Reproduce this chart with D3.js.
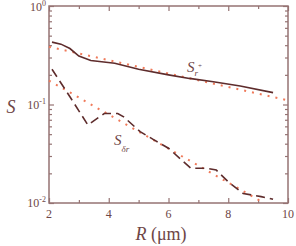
<!DOCTYPE html>
<html>
<head>
<meta charset="utf-8">
<script src="https://cdn.jsdelivr.net/npm/d3@7"></script>
<style>
  body { margin: 0; background: #fff; }
  svg text { fill: #6e4646; }
</style>
</head>
<body>
<div id="chart"></div>
<script>
// solid curve S_r
const srR = [2.1, 2.4, 2.7, 3.0, 3.4, 4.2, 5.0, 6.0, 6.7, 7.5, 8.4, 9.5];
const srS = [0.43, 0.41, 0.37, 0.31, 0.28, 0.262, 0.228, 0.2, 0.184, 0.17, 0.154, 0.132];

// dashed curve S_dr
const sdrR = [2.1, 2.7, 3.3, 3.85, 4.3, 4.5, 5.05, 5.5, 6.0, 6.4, 6.75, 7.3, 7.6, 8.0, 8.5, 9.1, 9.5];
const sdrS = [0.228, 0.12, 0.062, 0.081, 0.081, 0.075, 0.053, 0.044, 0.036, 0.028, 0.0225, 0.0225, 0.0216, 0.0164, 0.0125, 0.0116, 0.0109];

// exponential fits (dotted)
const fitSrR = [2, 10];
const fitSrS = [0.385, 0.11];
const fitSdrR = [2, 9.1];
const fitSdrS = [0.175, 0.0104];

const xMajor = [2, 4, 6, 8, 10];
const xMinor = [3, 5, 7, 9];
const yMajor = [0.01, 0.1, 1];
const yExp = [-2, -1, 0];

const width = 296, height = 246;
const margin = {top: 6, right: 8, bottom: 43, left: 49};
const axisCol = '#957373';

const svg = d3.select('#chart').append('svg')
  .attr('width', width)
  .attr('height', height)
  .attr('font-family', '"Liberation Serif", "Times New Roman", serif')

const x = d3.scaleLinear()
  .domain([2, 10])
  .range([margin.left, width - margin.right])

const y = d3.scaleLog()
  .domain([0.01, 1])
  .range([height - margin.bottom, margin.top])

const yMinor = []
for (let e = -2; e < 0; e++) {
  for (let k = 2; k <= 9; k++) yMinor.push(k * Math.pow(10, e))
}

const styleAxis = (g) => {
  g.select('.domain').remove()
  g.selectAll('line').attr('stroke', axisCol).attr('stroke-width', 1.2)
}

const x0 = margin.left, x1 = width - margin.right
const y0 = height - margin.bottom, y1 = margin.top

// ticks, pointing inward on all four sides
svg.append('g').attr('transform', `translate(0,${y0})`)
  .call(d3.axisBottom(x).tickValues(xMajor).tickSize(-5).tickFormat('')).call(styleAxis)
svg.append('g').attr('transform', `translate(0,${y0})`)
  .call(d3.axisBottom(x).tickValues(xMinor).tickSize(-3).tickFormat('')).call(styleAxis)
svg.append('g').attr('transform', `translate(0,${y1})`)
  .call(d3.axisTop(x).tickValues(xMajor).tickSize(-5).tickFormat('')).call(styleAxis)
svg.append('g').attr('transform', `translate(0,${y1})`)
  .call(d3.axisTop(x).tickValues(xMinor).tickSize(-3).tickFormat('')).call(styleAxis)
svg.append('g').attr('transform', `translate(${x0},0)`)
  .call(d3.axisLeft(y).tickValues(yMajor).tickSize(-5).tickFormat('')).call(styleAxis)
svg.append('g').attr('transform', `translate(${x0},0)`)
  .call(d3.axisLeft(y).tickValues(yMinor).tickSize(-3).tickFormat('')).call(styleAxis)
svg.append('g').attr('transform', `translate(${x1},0)`)
  .call(d3.axisRight(y).tickValues(yMajor).tickSize(-5).tickFormat('')).call(styleAxis)
svg.append('g').attr('transform', `translate(${x1},0)`)
  .call(d3.axisRight(y).tickValues(yMinor).tickSize(-3).tickFormat('')).call(styleAxis)

// frame
svg.append('rect')
  .attr('x', x0).attr('y', y1)
  .attr('width', x1 - x0).attr('height', y0 - y1)
  .attr('fill', 'none')
  .attr('stroke', axisCol)
  .attr('stroke-width', 1.5)

// tick labels
svg.selectAll('.xlab').data(xMajor).enter().append('text')
  .attr('x', (d) => x(d))
  .attr('y', y0 + 15)
  .attr('text-anchor', 'middle')
  .style('font-size', '12px')
  .text((d) => d)

const ylab = svg.selectAll('.ylab').data(yMajor).enter().append('text')
  .attr('x', x0 - 3)
  .attr('y', (d) => Math.max(y(d) + 4, 11))
  .attr('text-anchor', 'end')
  .style('font-size', '12px')
ylab.append('tspan').text('10')
ylab.append('tspan').attr('dy', -5).style('font-size', '8px').text((d, i) => yExp[i] < 0 ? '-' + (-yExp[i]) : yExp[i])

// axis titles
svg.append('text')
  .attr('x', 161).attr('y', 240)
  .attr('text-anchor', 'middle')
  .style('font-size', '18px')
  .html('<tspan font-style="italic">R</tspan> (μm)')

svg.append('text')
  .attr('x', 11).attr('y', 113)
  .attr('text-anchor', 'middle')
  .style('font-size', '18px')
  .style('font-style', 'italic')
  .text('S')

const line = d3.line()
  .x((d) => x(d[0]))
  .y((d) => y(d[1]))

const zip = (a, b) => a.map((v, i) => [v, b[i]])

const plot = svg.append('g')

plot.append('path')
  .datum(zip(fitSrR, fitSrS))
  .attr('d', line)
  .attr('fill', 'none')
  .attr('stroke', '#f07a5a')
  .attr('stroke-width', 2)
  .attr('stroke-dasharray', '2,6')

plot.append('path')
  .datum(zip(fitSdrR, fitSdrS))
  .attr('d', line)
  .attr('fill', 'none')
  .attr('stroke', '#f07a5a')
  .attr('stroke-width', 2)
  .attr('stroke-dasharray', '2,6')

plot.append('path')
  .datum(zip(srR, srS))
  .attr('d', line)
  .attr('fill', 'none')
  .attr('stroke', '#5e2c2c')
  .attr('stroke-width', 1.6)

plot.append('path')
  .datum(zip(sdrR, sdrS))
  .attr('d', line)
  .attr('fill', 'none')
  .attr('stroke', '#5e2c2c')
  .attr('stroke-width', 1.6)
  .attr('stroke-dasharray', '9,5')

// curve labels
const lblR = svg.append('text')
  .attr('x', 187).attr('y', 72)
  .style('font-size', '15px')
  .style('font-style', 'italic')
lblR.append('tspan').text('S')
lblR.append('tspan').attr('dy', 4).style('font-size', '9px').text('r')
lblR.append('tspan').attr('dx', 0).attr('dy', -8).style('font-size', '7px').style('font-style', 'normal').text('+')

const lblD = svg.append('text')
  .attr('x', 114).attr('y', 145)
  .style('font-size', '15px')
  .style('font-style', 'italic')
lblD.append('tspan').text('S')
lblD.append('tspan').attr('dy', 7).style('font-size', '9px').text('δr')
</script>
</body>
</html>
